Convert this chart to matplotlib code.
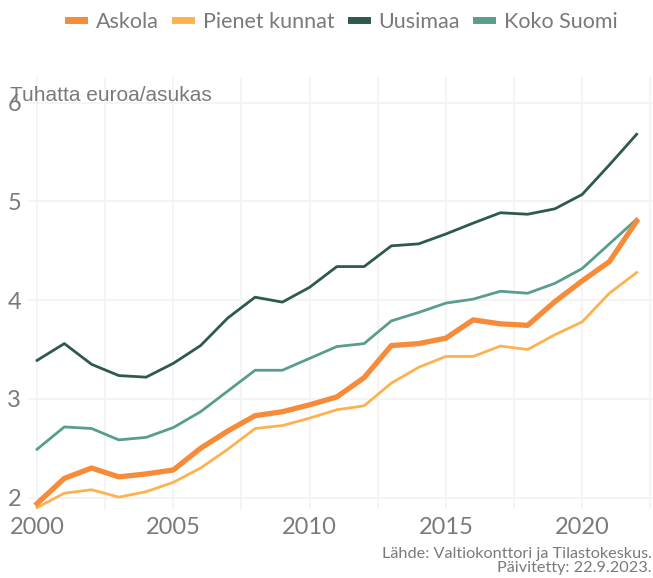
import matplotlib.pyplot as plt
from matplotlib.ticker import MultipleLocator

years = list(range(2000, 2023))

askola = [1.94, 2.195, 2.30, 2.21, 2.24, 2.28, 2.50, 2.675, 2.83, 2.87, 2.94, 3.02,
          3.215, 3.54, 3.56, 3.615, 3.80, 3.76, 3.745, 3.985, 4.195, 4.39, 4.80]
pienet = [1.90, 2.045, 2.08, 2.005, 2.06, 2.155, 2.30, 2.49, 2.70, 2.73, 2.805, 2.89,
          2.93, 3.16, 3.32, 3.43, 3.43, 3.535, 3.50, 3.65, 3.78, 4.07, 4.28]
uusimaa = [3.39, 3.56, 3.35, 3.236, 3.22, 3.36, 3.54, 3.82, 4.03, 3.98, 4.13, 4.34,
           4.34, 4.55, 4.57, 4.67, 4.78, 4.885, 4.87, 4.925, 5.07, 5.37, 5.68]
koko = [2.49, 2.716, 2.70, 2.585, 2.61, 2.71, 2.87, 3.08, 3.29, 3.29, 3.41, 3.53,
        3.56, 3.79, 3.875, 3.97, 4.01, 4.09, 4.07, 4.17, 4.32, 4.57, 4.82]

labels = ["Askola", "Pienet kunnat", "Uusimaa", "Koko Suomi"]
colors = ["#f68b39", "#fdb24f", "#2d5a4e", "#589d8e"]
widths = [3.8, 2.0, 2.0, 2.0]

plt.rcParams['font.family'] = ['Lato', 'DejaVu Sans']
grey = "#7a7a7a"

fig = plt.figure(figsize=(6.53, 5.78), dpi=100)
ax = fig.add_axes([0.043, 0.1194, 0.957, 0.7474])

# thin lines first, Askola on top
order = [2, 3, 1, 0]
series = [askola, pienet, uusimaa, koko]
handles = {}
for i in order:
    ln, = ax.plot(years, series[i], color=colors[i], lw=widths[i], label=labels[i], zorder=3)
    handles[i] = ln

ax.set_xlim(1999.67, 2022.6)
ax.set_ylim(1.885, 6.26)
ax.xaxis.set_major_locator(MultipleLocator(5))
ax.xaxis.set_minor_locator(MultipleLocator(2.5))
ax.yaxis.set_major_locator(MultipleLocator(1))
ax.grid(True, which='both', axis='x', color='#f2f2f2', lw=1.2)
ax.grid(True, which='major', axis='y', color='#f2f2f2', lw=1.2)
ax.set_axisbelow(True)
for s in ax.spines.values():
    s.set_visible(False)
ax.tick_params(which='both', length=0, colors=grey, labelsize=17)
ax.tick_params(axis='x', pad=6)
ax.tick_params(axis='y', pad=5)

leg = fig.legend([handles[i] for i in range(4)], labels, loc='center', bbox_to_anchor=(0.525, 0.962),
                 ncol=4, frameon=False, handlelength=0.75, handletextpad=0.55, columnspacing=0.75,
                 borderpad=0.2, prop={'size': 15.5})
for t in leg.get_texts():
    t.set_color(grey)
for h in leg.legend_handles:
    h.set_linewidth(5)

fig.text(0.015, 0.835, "Tuhatta euroa/asukas", family='Liberation Sans', fontsize=15,
         color=grey, va='center', ha='left')

fig.text(0.998, 0.03, "Lähde: Valtiokonttori ja Tilastokeskus.\nPäivitetty: 22.9.2023.",
         ha='right', va='center', fontsize=11.7, color=grey, linespacing=1.0)

fig.savefig("out.png", dpi=100)
